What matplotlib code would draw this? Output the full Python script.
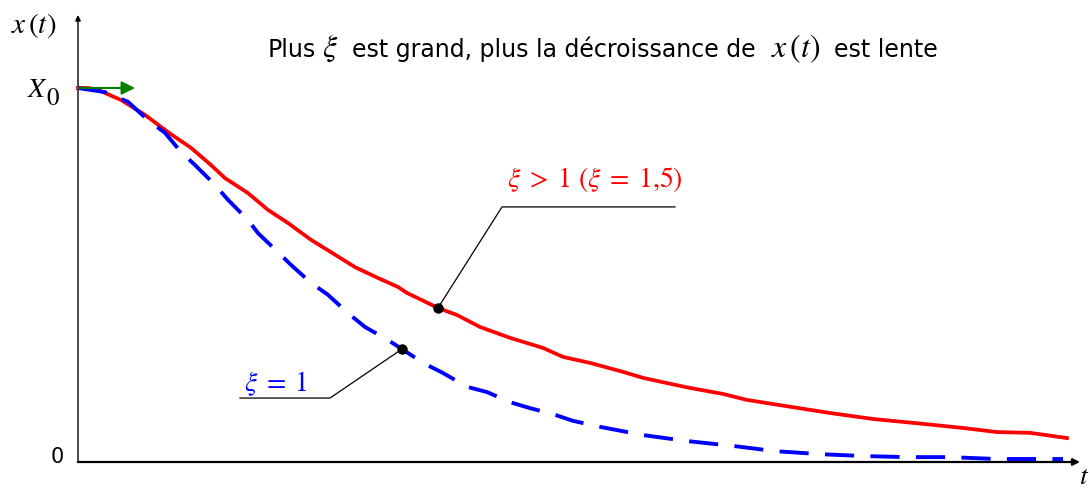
import matplotlib
matplotlib.use("Agg")
import matplotlib.pyplot as plt

plt.rcParams['mathtext.fontset'] = 'stix'

# Free response of a second-order system (x(0) = X0, x'(0) = 0), x / X0
t_over = [0.00, 0.10, 0.20, 0.43, 0.67, 0.90, 1.13, 1.33, 1.47, 1.70, 1.90,
          2.10, 2.33, 2.53, 2.77, 3.00, 3.20, 3.29, 3.60, 3.79, 4.02, 4.32,
          4.65, 4.85, 5.12, 5.45, 5.65, 5.89, 6.12, 6.45, 6.69, 7.02, 7.52,
          7.95, 8.45, 8.85, 9.19, 9.52, 9.89]
x_over = [1.000, 1.000, 0.995, 0.968, 0.928, 0.882, 0.840, 0.794, 0.759,
          0.719, 0.674, 0.639, 0.594, 0.561, 0.521, 0.492, 0.468, 0.452,
          0.412, 0.393, 0.361, 0.332, 0.305, 0.281, 0.265, 0.241, 0.225,
          0.211, 0.198, 0.182, 0.166, 0.152, 0.131, 0.115, 0.102, 0.091,
          0.080, 0.078, 0.064]

t_crit = [0.00, 0.27, 0.50, 0.70, 0.87, 1.03, 1.17, 1.37, 1.50, 1.70, 1.80,
          2.00, 2.13, 2.33, 2.50, 2.70, 2.87, 3.10, 3.24, 3.45, 3.65, 3.89,
          4.09, 4.32, 4.52, 4.75, 4.95, 5.22, 5.65, 6.09, 6.55, 6.97, 7.42,
          7.85, 8.29, 8.72, 9.19, 9.85]
x_crit = [1.000, 0.989, 0.963, 0.914, 0.880, 0.829, 0.794, 0.741, 0.701,
          0.647, 0.612, 0.561, 0.527, 0.479, 0.447, 0.398, 0.361, 0.326,
          0.302, 0.265, 0.238, 0.201, 0.187, 0.160, 0.144, 0.128, 0.110,
          0.094, 0.072, 0.056, 0.043, 0.029, 0.021, 0.016, 0.013, 0.013,
          0.008, 0.008]

# points picked on each curve for the callouts
pt_over = (3.60, 0.412)
pt_crit = (3.24, 0.302)

label_over = r"$\xi \;>\; 1\ (\xi \;=\; 1{,}5)$"
label_crit = r"$\xi \;=\; 1$"
# headline, split into plain-text and formula pieces: (text, x px, is_math)
title_parts = [("Plus", 268, False),
               (r"$\xi$", 322, True),
               ("est grand, plus la décroissance de", 352, False),
               (r"$x\,(t)$", 771, True),
               ("est lente", 834, False)]

W, H = 1090, 488
fig = plt.figure(figsize=(W / 100, H / 100), dpi=100)
ox, oy = 78, 462
ax = fig.add_axes([ox / W, (H - oy) / H, (1080 - ox) / W, (oy - 15) / H])
ax.set_xlim(0, (1080 - ox) / 100)
ax.set_ylim(0, (oy - 15) / 374)
for s in ax.spines.values():
    s.set_visible(False)
ax.set_xticks([])
ax.set_yticks([])

# axes with arrowheads
ax.annotate("", xy=(1.0, 0), xytext=(0, 0), xycoords='axes fraction',
            arrowprops=dict(arrowstyle='-|>', color='black', lw=1.6,
                            mutation_scale=10, shrinkA=0, shrinkB=0))
ax.annotate("", xy=(0, 1.0), xytext=(0, 0), xycoords='axes fraction',
            arrowprops=dict(arrowstyle='-|>', color='black', lw=1.0,
                            mutation_scale=8, shrinkA=0, shrinkB=0))

ax.plot(t_over, x_over, color='#ff0000', lw=2.7, clip_on=False,
        solid_joinstyle='round', zorder=3)
ax.plot(t_crit, x_crit, color='#0000ff', lw=2.8, dashes=(7.5, 4.2),
        clip_on=False, zorder=4)

# horizontal tangent at the start
ax.annotate("", xy=(0.57, 1.0), xytext=(0.0, 1.0),
            arrowprops=dict(arrowstyle='-|>', color='#008000', lw=1.5,
                            mutation_scale=20, shrinkA=0, shrinkB=0),
            zorder=5)

# callouts
ax.plot([pt_over[0], 4.24, 5.97], [pt_over[1], 0.682, 0.682],
        color='black', lw=0.9, zorder=5)
ax.plot(*pt_over, 'o', color='black', ms=6.5, zorder=6)
ax.text(6.05, 0.735, label_over, color='#ff0000', fontsize=20,
        ha='right', va='baseline')

ax.plot([pt_crit[0], 2.52, 1.62], [pt_crit[1], 0.171, 0.171],
        color='black', lw=0.9, zorder=5)
ax.plot(*pt_crit, 'o', color='black', ms=6.5, zorder=6)
ax.text(1.66, 0.19, label_crit, color='#0000ff', fontsize=20,
        ha='left', va='baseline')

# axis labels
fig.text(34 / W, 1 - 25 / H, r"$x\,(t)$", fontsize=21, ha='center',
         va='center')
fig.text(27 / W, 1 - 97 / H, r"$X$", fontsize=20, ha='left',
         va='baseline')
fig.text(46 / W, 1 - 105 / H, "0", fontsize=18, ha='left', va='baseline',
         family='STIXGeneral')
fig.text(57 / W, 1 - 457 / H, "0", fontsize=15, ha='center', va='center',
         family='DejaVu Sans')
fig.text(1084 / W, 1 - 476 / H, r"$t$", fontsize=20, ha='center',
         va='center')

for txt, xpx, is_math in title_parts:
    fig.text(xpx / W, 1 - 57 / H, txt, fontsize=23 if is_math else 17,
             ha='left', va='baseline', family='DejaVu Sans')

fig.savefig("out.png", dpi=100)
